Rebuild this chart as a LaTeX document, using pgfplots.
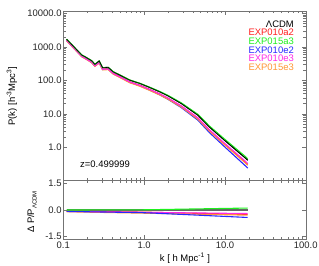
\documentclass[border=0pt]{standalone}
\usepackage{pgfplots}
\pgfplotsset{compat=1.18}
\usepackage{pgfplotstable}
\usepackage{fontspec}
\setmainfont{Liberation Sans}
\definecolor{cred}{RGB}{255,30,30}
\definecolor{cgreen}{RGB}{30,240,30}
\definecolor{cblue}{RGB}{40,40,255}
\definecolor{cmag}{RGB}{255,40,230}
\definecolor{corange}{RGB}{255,150,50}
\pgfplotstableread{
k L a2 a3 e2 e3 e15
0.110 1679 1578 1679 1545 1545 1511
0.169 568 527 569 515 517 503
0.185 506 469 507 457 459 446
0.224 384 354 385 344 347 336
0.246 299 274 300 268 270 260
0.278 376 344 378 335 338 326
0.306 237 216 238 210 213 205
0.359 243 221 244 215 217 208
0.414 179 162 180 157 159 153
0.500 143 129 144 125 127 121
0.664 101 90.0 102 87.2 88.8 84.3
0.883 80.7 71.3 81.4 68.9 70.5 66.5
1.17 61.2 53.4 62.1 51.1 53.0 49.8
1.56 45.3 39.0 46.4 36.7 38.9 36.4
1.97 34.4 29.2 35.5 27.1 29.4 27.3
2.88 20.3 16.9 21.2 15.3 17.1 15.9
4.62 9.08 7.38 9.64 6.45 7.57 6.93
6.44 4.0 3.19 4.29 2.72 3.30 3.0
9.86 1.62 1.26 1.76 1.04 1.32 1.19
18.2 0.459 0.345 0.509 0.268 0.368 0.327
19.1 0.408 0.306 0.453 0.237 0.326 0.290
}\pk
\pgfplotstableread{
k L a2 a3 e2 e3 e15
0.110 0 -0.060 0.000 -0.080 -0.080 -0.100
0.169 0 -0.072 0.002 -0.094 -0.090 -0.115
0.185 0 -0.074 0.002 -0.097 -0.092 -0.119
0.224 0 -0.079 0.003 -0.103 -0.096 -0.126
0.246 0 -0.082 0.004 -0.105 -0.098 -0.129
0.278 0 -0.085 0.004 -0.109 -0.101 -0.134
0.306 0 -0.088 0.005 -0.112 -0.103 -0.137
0.359 0 -0.092 0.005 -0.117 -0.107 -0.143
0.414 0 -0.096 0.006 -0.122 -0.110 -0.148
0.500 0 -0.101 0.007 -0.128 -0.114 -0.155
0.664 0 -0.109 0.008 -0.137 -0.121 -0.165
0.883 0 -0.117 0.009 -0.146 -0.127 -0.176
1.17 0 -0.127 0.015 -0.165 -0.134 -0.186
1.56 0 -0.140 0.025 -0.190 -0.141 -0.197
1.97 0 -0.150 0.033 -0.212 -0.146 -0.205
2.88 0 -0.167 0.046 -0.247 -0.155 -0.219
4.62 0 -0.187 0.062 -0.290 -0.166 -0.237
6.44 0 -0.202 0.073 -0.321 -0.174 -0.250
9.86 0 -0.221 0.088 -0.360 -0.184 -0.265
18.2 0 -0.248 0.108 -0.416 -0.199 -0.288
19.1 0 -0.250 0.110 -0.420 -0.200 -0.290
}\rat
\begin{document}
\fontsize{9.5}{11}\selectfont
\begin{tikzpicture}
\path[use as bounding box] (0,0) rectangle (319bp,266bp);
\begin{axis}[at={(63.3bp,85.3bp)}, anchor=south west,
  scale only axis, width=242.5bp, height=169.7bp,
  xmode=log, ymode=log, xmin=0.1, xmax=100, ymin=0.1, ymax=11750,
  axis line style={black!55, line width=0.5pt},
  tick style={black!55, line width=0.4pt},
  major tick length=4bp, minor tick length=2.5bp,
  tick align=inside,
  xtick={0.1,1,10,100},
  xticklabels={},
  ytick={1,10,100,1000,10000},
  yticklabels={1.0,10.0,100.0,1000.0,10000.0},
  yticklabel style={font=\fontsize{9.5}{11}\selectfont, text=black!85, inner sep=1bp, xshift=-0.5bp},
]
\addplot[black, line width=1.1pt, no markers] table[x=k,y=L] {\pk};
\addplot[cred, line width=1.1pt, no markers] table[x=k,y=a2] {\pk};
\addplot[cblue, line width=1.1pt, no markers] table[x=k,y=e2] {\pk};
\addplot[corange, line width=1.1pt, no markers] table[x=k,y=e15] {\pk};
\addplot[cmag, line width=1.1pt, no markers] table[x=k,y=e3] {\pk};
\addplot[cgreen, line width=1.1pt, no markers] table[x=k,y=a3] {\pk};
\addplot[black, line width=0.6pt, no markers] table[x=k,y=L] {\pk};
\end{axis}
\begin{axis}[at={(63.3bp,26.7bp)}, anchor=south west,
  scale only axis, width=242.5bp, height=58.6bp,
  xmode=log, xmin=0.1, xmax=100, ymin=-1.65, ymax=1.65,
  axis line style={black!55, line width=0.5pt},
  tick style={black!55, line width=0.4pt},
  major tick length=4bp, minor tick length=2.5bp,
  tick align=inside,
  xtick={0.1,1,10,100},
  xticklabels={0.1,1.0,10.0,100.0},
  xticklabel style={font=\fontsize{9.5}{11}\selectfont, text=black!85, inner sep=1bp, yshift=-1bp},
  ytick={-1.5,0,1.5},
  yticklabels={-1.5,0.0,1.5},
  yticklabel style={font=\fontsize{9.5}{11}\selectfont, text=black!85, inner sep=1bp, xshift=-0.5bp},
]
\addplot[black!60, line width=1.1pt, no markers] table[x=k,y=L] {\rat};
\addplot[cred, line width=1.1pt, no markers] table[x=k,y=a2] {\rat};
\addplot[corange, line width=1.1pt, no markers] table[x=k,y=e15] {\rat};
\addplot[cmag, line width=1.1pt, no markers] table[x=k,y=e3] {\rat};
\addplot[cblue, line width=1.1pt, no markers] table[x=k,y=e2] {\rat};
\addplot[cgreen, line width=1.1pt, no markers] table[x=k,y=a3] {\rat};
\end{axis}
\node[anchor=east, inner sep=0] at (294bp,242bp) {ΛCDM};
\node[anchor=east, inner sep=0, text=cred] at (294bp,233.3bp) {EXP010a2};
\node[anchor=east, inner sep=0, text=cgreen] at (294bp,224.6bp) {EXP015a3};
\node[anchor=east, inner sep=0, text=cblue] at (294bp,216bp) {EXP010e2};
\node[anchor=east, inner sep=0, text=cmag] at (294bp,207.3bp) {EXP010e3};
\node[anchor=east, inner sep=0, text=corange] at (294bp,198.6bp) {EXP015e3};
\node[inner sep=0] at (105bp,101.7bp) {z=0.499999};
\node[inner sep=0] at (185bp,7.5bp) {k [ h Mpc\textsuperscript{-1} ]};
\node[inner sep=0, rotate=90] at (12bp,170bp) {P(k) [h\textsuperscript{-3}Mpc\textsuperscript{3}]};
\node[inner sep=0, rotate=90] at (32bp,54bp) {Δ P/P\raisebox{-0.5ex}{\fontsize{6}{6}\selectfont ΛCDM}};
\end{tikzpicture}
\end{document}
